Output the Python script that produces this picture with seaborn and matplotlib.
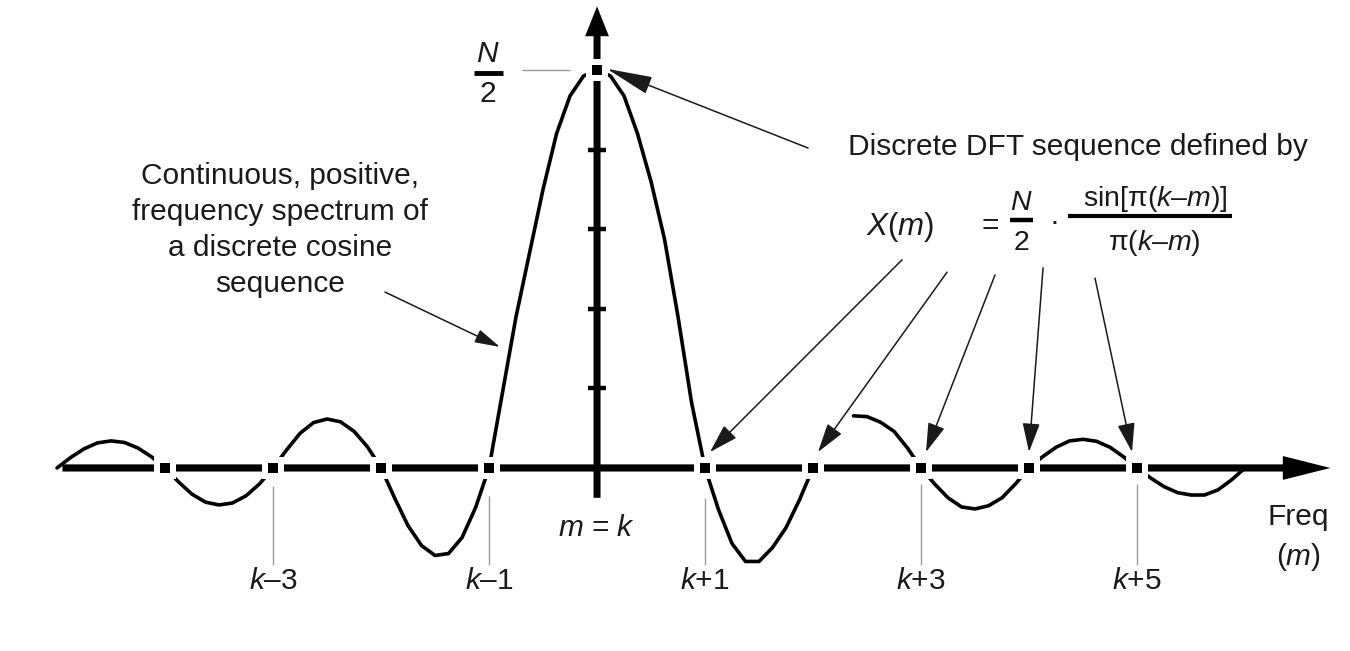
import matplotlib
matplotlib.use('Agg')
import matplotlib.pyplot as plt
import seaborn as sns
import numpy as np
import pandas as pd

m_curve = np.linspace(-5, 6, 89)
X_curve = [0, 0.026, 0.048, 0.063, 0.068, 0.064, 0.050, 0.028, 0,
           -0.035, -0.066, -0.086, -0.093, -0.088, -0.070, -0.040, 0,
           0.045, 0.087, 0.114, 0.123, 0.116, 0.092, 0.053, 0,
           -0.075, -0.145, -0.195, -0.220, -0.215, -0.175, -0.100, 0,
           0.19, 0.38, 0.54, 0.70, 0.84, 0.935, 0.985, 1.0,
           0.985, 0.935, 0.84, 0.72, 0.575, 0.38, 0.165, 0,
           -0.105, -0.19, -0.235, -0.235, -0.20, -0.15, -0.08, 0,
           np.nan, np.nan, 0.131, 0.129, 0.115, 0.092, 0.05, 0,
           -0.04, -0.075, -0.098, -0.103, -0.095, -0.075, -0.04, 0,
           0.028, 0.052, 0.068, 0.072, 0.067, 0.052, 0.028, 0,
           -0.025, -0.047, -0.062, -0.068, -0.068, -0.055, -0.03, 0]

# Discrete DFT samples
m_samples = [-4, -3, -2, -1, 0, 1, 2, 3, 4, 5]
X_samples = [0, 0, 0, 0, 1, 0, 0, 0, 0, 0]

y_ticks = [0.2, 0.4, 0.6, 0.8]
label_m = [-3, -1, 1, 3, 5]
label_text = ['$k$–3', '$k$–1', '$k$+1', '$k$+3', '$k$+5']
leader_top = [-0.045, -0.07, -0.075, -0.04, -0.04]

sns.set_theme(style='white')
plt.rcParams['font.family'] = ['Liberation Sans', 'DejaVu Sans']
plt.rcParams['mathtext.fontset'] = 'custom'
plt.rcParams['mathtext.it'] = 'Liberation Sans:italic'
plt.rcParams['mathtext.rm'] = 'Liberation Sans'

ink = '#1a1a1a'
fs = 21.5

fig = plt.figure(figsize=(13.5, 6.51), dpi=100)
ax = fig.add_axes([0, 0, 1, 1])
ax.set_xlim(-5.528, 6.972)
ax.set_ylim(-0.46, 1.176)
ax.axis('off')

# curve (broken where the original drawing has a gap)
df = pd.DataFrame({'m': m_curve, 'X': X_curve})
df['piece'] = df['X'].isna().cumsum()
df = df.dropna()
sns.lineplot(data=df, x='m', y='X', units='piece', estimator=None, sort=False,
             color='black', lw=2.6, ax=ax, zorder=3, legend=False)

# axes with arrow heads
ax.arrow(-4.95, 0, 11.74, 0, width=0.018, head_width=0.06, head_length=0.44,
         length_includes_head=True, color='black', lw=0, zorder=2)
ax.arrow(0, -0.075, 0, 1.235, width=0.065, head_width=0.22, head_length=0.075,
         length_includes_head=True, color='black', lw=0, zorder=2)
ax.hlines(y_ticks, -0.085, 0.085, color='black', lw=3.2, zorder=2)

# sample markers: white gap then black square
samples = pd.DataFrame({'m': m_samples, 'X': X_samples})
sns.scatterplot(data=samples, x='m', y='X', marker='s', s=250, color='white',
                edgecolor='none', ax=ax, zorder=4, legend=False)
sns.scatterplot(data=samples, x='m', y='X', marker='s', s=50, color='black',
                edgecolor='none', ax=ax, zorder=5, legend=False)

# thin leader lines and k labels
gray = '#9a9a9a'
ax.vlines(label_m, -0.245, leader_top, color=gray, lw=1)
for m, t in zip(label_m, label_text):
    ax.text(m, -0.285, t, ha='center', va='center', fontsize=fs, color=ink)
ax.hlines(1.0, -0.694, -0.25, color=gray, lw=1)

# N/2 at the peak
ax.text(-1.009, 1.04, '$N$', ha='center', va='center', fontsize=fs, color=ink)
ax.hlines(0.992, -1.139, -0.870, color='black', lw=3.5)
ax.text(-1.009, 0.94, '2', ha='center', va='center', fontsize=fs, color=ink)

ax.text(0, -0.151, '$m$ = $k$', ha='center', va='center', fontsize=fs, color=ink)
ax.text(6.491, -0.123, 'Freq', ha='center', va='center', fontsize=fs, color=ink)
ax.text(6.491, -0.224, '($m$)', ha='center', va='center', fontsize=fs, color=ink)

# left annotation
ax.text(-2.935, 0.598, 'Continuous, positive,\nfrequency spectrum of\na discrete cosine\nsequence',
        ha='center', va='center', fontsize=fs, linespacing=1.36, color=ink)
ax.annotate('', xy=(-0.898, 0.304), xytext=(-1.963, 0.442),
            arrowprops=dict(arrowstyle='-|>,head_length=1.3,head_width=0.35',
                            color=ink, lw=1.1, shrinkA=0, shrinkB=0))

# right annotation with the formula
ax.text(4.454, 0.807, 'Discrete DFT sequence defined by', ha='center', va='center',
        fontsize=fs, color=ink)
ax.annotate('', xy=(0.093, 1.003), xytext=(1.954, 0.804),
            arrowprops=dict(arrowstyle='-|>,head_length=2.4,head_width=0.47',
                            color=ink, lw=1.1, shrinkA=0, shrinkB=0))
ax.text(2.806, 0.606, '$X$($m$)', ha='center', va='center', fontsize=fs + 1, color=ink)
ax.text(3.639, 0.608, '=', ha='center', va='center', fontsize=fs, color=ink)
ax.text(3.926, 0.665, '$N$', ha='center', va='center', fontsize=fs - 1, color=ink)
ax.hlines(0.623, 3.824, 4.037, color='black', lw=3.2)
ax.text(3.926, 0.566, '2', ha='center', va='center', fontsize=fs - 1, color=ink)
ax.text(4.231, 0.618, '·', ha='center', va='center', fontsize=fs, color=ink)
ax.text(5.167, 0.675, 'sin[π($k$–$m$)]', ha='center', va='center', fontsize=fs - 1, color=ink)
ax.hlines(0.633, 4.361, 5.88, color='black', lw=3)
ax.text(5.157, 0.566, 'π($k$–$m$)', ha='center', va='center', fontsize=fs - 1, color=ink)

arrow_start = [(2.824, 0.523), (3.241, 0.492), (3.685, 0.485), (4.13, 0.503), (4.611, 0.477)]
arrow_tip_m = [1.046, 2.046, 3.046, 4.0, 4.954]
for (sm, sx), tm in zip(arrow_start, arrow_tip_m):
    ax.annotate('', xy=(tm, 0.04), xytext=(sm, sx),
                arrowprops=dict(arrowstyle='-|>,head_length=1.5,head_width=0.45',
                                color=ink, lw=1.1, shrinkA=0, shrinkB=0))

fig.savefig('out.png', dpi=100, facecolor='white')
